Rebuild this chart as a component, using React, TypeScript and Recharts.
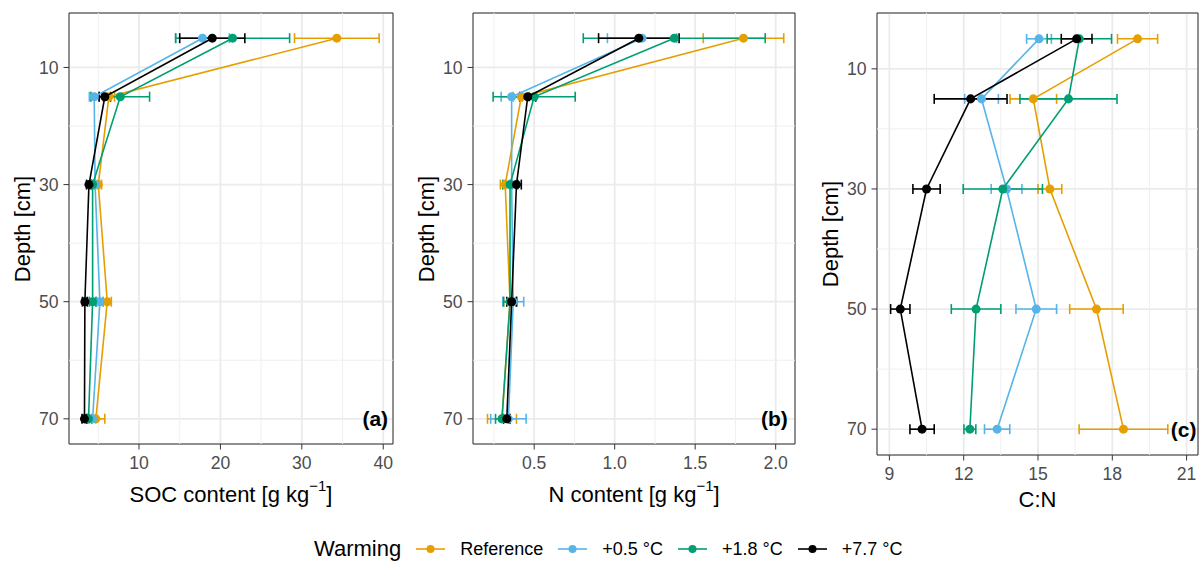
import React from 'react';
import {
  ScatterChart,
  Scatter,
  XAxis,
  YAxis,
  CartesianGrid,
  ErrorBar,
  ReferenceLine,
  ReferenceArea,
  ReferenceDot,
} from 'recharts';

// ---------- data ----------
const depths = [5, 15, 30, 50, 70];
const depthTicks = [10, 30, 50, 70];
const depthMinor = [20, 40, 60];
const depthDomain: [number, number] = [0.7, 74.3];

const seriesNames = ['Reference', '+0.5 °C', '+1.8 °C', '+7.7 °C'];
const seriesColors = ['#E69F00', '#56B4E9', '#009E73', '#000000'];

// SOC content [g kg-1]
const socRef = [34.3, 6.3, 5.0, 6.1, 4.7];
const socRefErr = [5.2, 0.7, 0.4, 0.5, 1.1];
const socP05 = [17.8, 4.5, 4.6, 5.2, 4.3];
const socP05Err = [3.3, 0.6, 0.3, 0.4, 0.4];
const socP18 = [21.5, 7.7, 4.3, 4.3, 3.8];
const socP18Err = [7.0, 3.6, 0.3, 0.4, 0.4];
const socP77 = [19.0, 5.8, 3.85, 3.35, 3.3];
const socP77Err = [4.0, 0.7, 0.3, 0.3, 0.3];

// N content [g kg-1]
const nRef = [1.8, 0.42, 0.32, 0.35, 0.3];
const nRefErr = [0.25, 0.05, 0.03, 0.04, 0.09];
const nP05 = [1.17, 0.36, 0.36, 0.37, 0.34];
const nP05Err = [0.215, 0.065, 0.04, 0.065, 0.11];
const nP18 = [1.37, 0.5, 0.35, 0.35, 0.3];
const nP18Err = [0.565, 0.255, 0.045, 0.04, 0.04];
const nP77 = [1.15, 0.46, 0.39, 0.36, 0.33];
const nP77Err = [0.25, 0.05, 0.03, 0.03, 0.02];

// C:N
const cnRef = [19.02, 14.81, 15.48, 17.36, 18.45];
const cnRefErr = [0.81, 0.94, 0.48, 1.08, 1.79];
const cnP05 = [15.04, 12.72, 13.73, 14.93, 13.35];
const cnP05Err = [0.5, 0.68, 0.62, 0.82, 0.51];
const cnP18 = [16.67, 16.23, 13.58, 12.5, 12.25];
const cnP18Err = [1.3, 1.96, 1.6, 1.0, 0.24];
const cnP77 = [16.56, 12.28, 10.5, 9.44, 10.32];
const cnP77Err = [0.62, 1.47, 0.55, 0.39, 0.49];

const socTicks = [10, 20, 30, 40];
const socMinor = [5, 15, 25, 35];
const nTicks = [0.5, 1.0, 1.5, 2.0];
const nMinor = [0.25, 0.75, 1.25, 1.75];
const cnTicks = [9, 12, 15, 18, 21];
const cnMinor = [10.5, 13.5, 16.5, 19.5];

// ---------- helpers ----------
const build = (vals: number[], errs: number[]) =>
  depths.map((d, i) => ({ depth: d, x: vals[i], err: errs[i] }));

const FONT = '"Liberation Sans", Arial, Helvetica, sans-serif';
const TICK_FS = 17.6;
const TITLE_FS = 22;
const LEGEND_FS = 18;
const LW = 1.6;

type PanelCfg = {
  left: number;
  width: number;
  height: number;
  yw: number;
  mr: number;
  mb: number;
  xDomain: [number, number];
  xTicks: number[];
  xMinor: number[];
  fmt: (v: number) => string;
  series: { x: number; depth: number; err: number }[][];
  label: string;
  labelX: number;
};

function Panel({ cfg }: { cfg: PanelCfg }) {
  const labelContent = (props: any) => {
    const vb = props.viewBox || {};
    const x = (vb.x ?? 0) + (vb.width ?? 0) / 2;
    const y = (vb.y ?? 0) + (vb.height ?? 0) / 2;
    return (
      <text
        x={x}
        y={y}
        dy="0.36em"
        textAnchor="end"
        fontSize={21}
        fontWeight="bold"
        fill="#000"
        fontFamily={FONT}
      >
        {cfg.label}
      </text>
    );
  };
  return (
    <div style={{ position: 'absolute', left: cfg.left, top: 0 }}>
      <ScatterChart
        width={cfg.width}
        height={cfg.height}
        margin={{ top: 13, right: cfg.mr, bottom: cfg.mb, left: 0 }}
      >
        <CartesianGrid stroke="#EBEBEB" strokeWidth={1.8} />
        {cfg.xMinor.map((v) => (
          <ReferenceLine key={'mx' + v} x={v} stroke="#EFEFEF" strokeWidth={1} />
        ))}
        {depthMinor.map((v) => (
          <ReferenceLine key={'my' + v} y={v} stroke="#EFEFEF" strokeWidth={1} />
        ))}
        <XAxis
          type="number"
          dataKey="x"
          domain={cfg.xDomain}
          allowDataOverflow
          ticks={cfg.xTicks}
          interval={0}
          tickFormatter={cfg.fmt}
          axisLine={false}
          tickLine={{ stroke: '#333', strokeWidth: 1 }}
          tickSize={5.5}
          tickMargin={7}
          height={30}
          tick={{ fill: '#4D4D4D', fontSize: TICK_FS, fontFamily: FONT }}
        />
        <YAxis
          type="number"
          dataKey="depth"
          domain={depthDomain}
          reversed
          allowDataOverflow
          ticks={depthTicks}
          interval={0}
          axisLine={false}
          tickLine={{ stroke: '#333', strokeWidth: 1 }}
          tickSize={5.5}
          tickMargin={5}
          width={cfg.yw}
          tick={{ fill: '#4D4D4D', fontSize: TICK_FS, fontFamily: FONT }}
        />
        {cfg.series.map((data, i) => (
          <Scatter
            key={seriesNames[i]}
            name={seriesNames[i]}
            data={data}
            fill={seriesColors[i]}
            line={{ stroke: seriesColors[i], strokeWidth: LW }}
            shape="circle"
            isAnimationActive={false}
          >
            <ErrorBar
              dataKey="err"
              direction="x"
              stroke={seriesColors[i]}
              strokeWidth={LW}
              width={5}
              isAnimationActive={false}
            />
          </Scatter>
        ))}
        <ReferenceArea
          x1={cfg.xDomain[0]}
          x2={cfg.xDomain[1]}
          y1={depthDomain[0]}
          y2={depthDomain[1]}
          fill="none"
          fillOpacity={0}
          stroke="#333"
          strokeWidth={1}
          ifOverflow="visible"
        />
        <ReferenceDot
          x={cfg.labelX}
          y={70}
          r={0}
          fill="none"
          stroke="none"
          label={{ content: labelContent }}
        />
      </ScatterChart>
    </div>
  );
}

const panels: PanelCfg[] = [
  {
    left: 0,
    width: 400,
    height: 520,
    yw: 69,
    mr: 7,
    mb: 46,
    xDomain: [1.4, 41.2],
    xTicks: socTicks,
    xMinor: socMinor,
    fmt: (v) => String(v),
    series: [
      build(socRef, socRefErr),
      build(socP05, socP05Err),
      build(socP18, socP18Err),
      build(socP77, socP77Err),
    ],
    label: '(a)',
    labelX: 40.6,
  },
  {
    left: 400,
    width: 400,
    height: 520,
    yw: 73,
    mr: 5,
    mb: 46,
    xDomain: [0.12, 2.12],
    xTicks: nTicks,
    xMinor: nMinor,
    fmt: (v) => v.toFixed(1),
    series: [
      build(nRef, nRefErr),
      build(nP05, nP05Err),
      build(nP18, nP18Err),
      build(nP77, nP77Err),
    ],
    label: '(b)',
    labelX: 2.075,
  },
  {
    left: 800,
    width: 400,
    height: 520,
    yw: 77,
    mr: 2,
    mb: 35,
    xDomain: [8.5, 21.46],
    xTicks: cnTicks,
    xMinor: cnMinor,
    fmt: (v) => String(v),
    series: [
      build(cnRef, cnRefErr),
      build(cnP05, cnP05Err),
      build(cnP18, cnP18Err),
      build(cnP77, cnP77Err),
    ],
    label: '(c)',
    labelX: 21.4,
  },
];

const yTitles = [
  { x: 23, y: 228.5 },
  { x: 427, y: 228.5 },
  { x: 831, y: 234 },
];

function Sup({ children }: { children: React.ReactNode }) {
  return (
    <span style={{ fontSize: '0.68em', position: 'relative', top: '-0.75em' }}>{children}</span>
  );
}

export default function App() {
  return (
    <div
      style={{
        position: 'absolute',
        left: 0,
        top: 0,
        width: 1200,
        height: 562,
        background: '#fff',
        fontFamily: FONT,
        color: '#000',
        overflow: 'hidden',
      }}
    >
      {panels.map((p) => (
        <Panel key={p.label} cfg={p} />
      ))}

      {yTitles.map((t, i) => (
        <div
          key={'yt' + i}
          style={{
            position: 'absolute',
            left: t.x,
            top: t.y,
            transform: 'translate(-50%, -50%) rotate(-90deg)',
            fontSize: TITLE_FS,
            lineHeight: 1,
            whiteSpace: 'nowrap',
          }}
        >
          Depth [cm]
        </div>
      ))}

      <div
        style={{
          position: 'absolute',
          left: 231,
          top: 495,
          transform: 'translate(-50%, -50%)',
          fontSize: TITLE_FS,
          lineHeight: 1,
          whiteSpace: 'nowrap',
        }}
      >
        SOC content [g kg<Sup>−1</Sup>]
      </div>
      <div
        style={{
          position: 'absolute',
          left: 634,
          top: 495,
          transform: 'translate(-50%, -50%)',
          fontSize: TITLE_FS,
          lineHeight: 1,
          whiteSpace: 'nowrap',
        }}
      >
        N content [g kg<Sup>−1</Sup>]
      </div>
      <div
        style={{
          position: 'absolute',
          left: 1037.5,
          top: 500,
          transform: 'translate(-50%, -50%)',
          fontSize: TITLE_FS,
          lineHeight: 1,
          whiteSpace: 'nowrap',
        }}
      >
        C:N
      </div>

      {/* legend */}
      <div
        style={{
          position: 'absolute',
          left: 314,
          top: 549,
          transform: 'translateY(-50%)',
          display: 'flex',
          alignItems: 'center',
          whiteSpace: 'nowrap',
          lineHeight: 1,
        }}
      >
        <span style={{ fontSize: TITLE_FS, marginRight: 15 }}>Warming</span>
        {seriesNames.map((n, i) => (
          <React.Fragment key={n}>
            <svg width={29} height={12} style={{ display: 'block' }}>
              <line x1={0} y1={6} x2={29} y2={6} stroke={seriesColors[i]} strokeWidth={LW} />
              <circle cx={14.5} cy={6} r={4} fill={seriesColors[i]} />
            </svg>
            <span style={{ fontSize: LEGEND_FS, marginLeft: 15, marginRight: 15 }}>{n}</span>
          </React.Fragment>
        ))}
      </div>
    </div>
  );
}
